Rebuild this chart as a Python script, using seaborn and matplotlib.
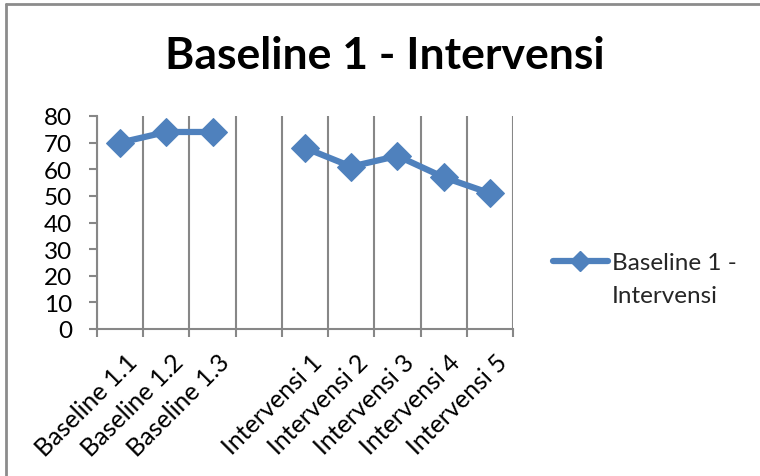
import numpy as np
import pandas as pd
import matplotlib
matplotlib.use("Agg")
import matplotlib.pyplot as plt
import matplotlib.transforms as mtransforms
from matplotlib.lines import Line2D
from matplotlib.ticker import MultipleLocator, FixedLocator
import seaborn as sns

categories = ["Baseline 1.1", "Baseline 1.2", "Baseline 1.3", "",
              "Intervensi 1", "Intervensi 2", "Intervensi 3", "Intervensi 4", "Intervensi 5"]
values = [70, 74, 74, np.nan, 68, 61, 65, 57, 51]
phase = ["Baseline", "Baseline", "Baseline", "Gap",
         "Intervensi", "Intervensi", "Intervensi", "Intervensi", "Intervensi"]
legend_lines = ["Baseline 1 -", "Intervensi"]
title = "Baseline 1 - Intervensi"

sns.set_theme(style="white")
plt.rcParams['font.family'] = ['Lato', 'DejaVu Sans']

blue = "#4F81BD"
grid_c = "#878787"
fs = 17.5

df = pd.DataFrame({"pos": np.arange(len(categories)), "value": values, "phase": phase}).dropna()

fig = plt.figure(figsize=(7.6, 4.77), dpi=100)
ax = fig.add_axes([97/760, 1-330/477, (513-97)/760, (330-117)/477])

sns.lineplot(data=df, x="pos", y="value", units="phase", estimator=None,
             color=blue, linewidth=4.5, marker="D", markersize=14,
             markeredgecolor=blue, ax=ax, legend=False)

n = len(categories)
ax.set_xlim(-0.5, n - 0.5)
ax.set_ylim(0, 80)
ax.yaxis.set_major_locator(MultipleLocator(10))
ax.set_xticks(np.arange(n))
ax.set_xticklabels(categories, rotation=45, ha="right", rotation_mode="anchor", fontsize=18)
ax.xaxis.set_minor_locator(FixedLocator(np.arange(n + 1) - 0.5))
ax.tick_params(axis="x", which="major", length=0, pad=15)
ax.tick_params(axis="x", which="minor", length=6, width=1.5, color=grid_c, direction="out", bottom=True)
ax.tick_params(axis="y", which="major", length=6, width=1.5, color=grid_c, direction="out", left=True, labelsize=fs, pad=12)
for t in ax.get_yticklabels() + ax.get_xticklabels():
    t.set_color("black")
shift = mtransforms.ScaledTranslation(5/100, 0, fig.dpi_scale_trans)
for t in ax.get_xticklabels():
    t.set_transform(t.get_transform() + shift)
ax.set_xlabel("")
ax.set_ylabel("")
ax.grid(False)
for xv in np.arange(n + 1) - 0.5:
    ax.axvline(xv, color=grid_c, linewidth=1.5, zorder=0)
for s in ["top", "right"]:
    ax.spines[s].set_visible(False)
for s in ["left", "bottom"]:
    ax.spines[s].set_color(grid_c)
    ax.spines[s].set_linewidth(1.5)

fig.text(385/760, 1-56/477, title, ha="center", va="center", fontsize=32, fontweight="bold", color="black")

handle = Line2D([], [], color=blue, linewidth=4.5, marker="D", markersize=10, markeredgecolor=blue)
blank = Line2D([], [], color="none")
fig.legend([handle, blank], legend_lines, loc="upper left", bbox_to_anchor=(553/760, 1-253/477),
           frameon=False, fontsize=fs, handlelength=2.25, handletextpad=0.18, borderpad=0,
           borderaxespad=0, labelspacing=0.5)

# chart frame lines (top and left)
fig.add_artist(Line2D([6/760, 6/760], [0, 1-5/477], transform=fig.transFigure, color="#8c8c8c", linewidth=2))
fig.add_artist(Line2D([6/760, 1], [1-5/477, 1-5/477], transform=fig.transFigure, color="#8c8c8c", linewidth=2))

fig.savefig("out.png", dpi=100)
